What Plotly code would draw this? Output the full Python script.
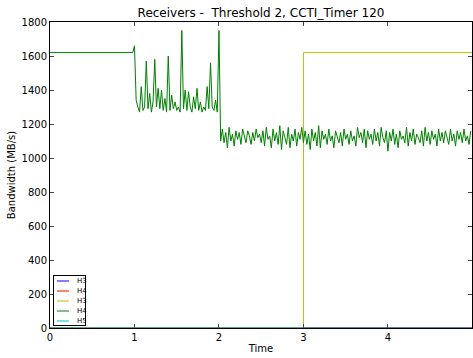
import numpy as np
import plotly.graph_objects as go

# ---- data ----
title = "Receivers -  Threshold 2, CCTI_Timer 120"
series_names = ["H3", "H4", "H3", "H4", "H5"]
series_colors = ["#0000ff", "#ff0000", "#bfbf00", "#008000", "#00bfbf"]

# flat-zero receivers
zero_t = [0.0, 5.0]
zero_v = [0, 0]

# yellow H3: idle until t=3, then full rate
h3b_t = [0.0, 3.0, 3.0, 5.0]
h3b_v = [0, 0, 1620, 1620]

# green H4
h4_flat_t = [0.0, 0.98]
h4_flat_v = [1620, 1620]

h4_seg1_start, h4_step = 1.00, 0.02
h4_seg1_v = [
    1660, 1340, 1300, 1270, 1420, 1280, 1300, 1570, 1290, 1380,
    1270, 1330, 1580, 1300, 1410, 1290, 1400, 1280, 1350, 1270,
    1600, 1280, 1370, 1290, 1330, 1280, 1300, 1270, 1750, 1290,
    1400, 1280, 1390, 1300, 1270, 1360, 1290, 1410, 1280, 1330,
    1270, 1300, 1280, 1420, 1290, 1560, 1300, 1280, 1340, 1270,
    1750,
]
h4_seg2_start = 2.02
h4_seg2_v = [
    1100, 1170, 1090, 1150, 1060, 1180, 1100, 1140, 1070, 1160,
    1110, 1150, 1080, 1170, 1120, 1090, 1160, 1130, 1080, 1150,
    1100, 1170, 1120, 1140, 1090, 1160, 1070, 1180, 1110, 1130,
    1060, 1170, 1100, 1150, 1080, 1190, 1050, 1160, 1120, 1080,
    1180, 1060, 1140, 1100, 1170, 1070, 1150, 1110, 1180, 1090,
    1160, 1080, 1140, 1050, 1170, 1100, 1150, 1070, 1190, 1060,
    1160, 1110, 1140, 1080, 1170, 1100, 1130, 1060, 1160, 1120,
    1090, 1150, 1070, 1170, 1110, 1140, 1080, 1160, 1100, 1130,
    1070, 1180, 1120, 1150, 1090, 1170, 1060, 1160, 1110, 1140,
    1080, 1170, 1100, 1150, 1070, 1180, 1120, 1090, 1160, 1040,
    1150, 1100, 1170, 1080, 1140, 1060, 1160, 1110, 1130, 1090,
    1180, 1070, 1150, 1100, 1170, 1080, 1140, 1120, 1090, 1160,
    1070, 1180, 1100, 1150, 1080, 1160, 1110, 1140, 1070, 1170,
    1100, 1150, 1090, 1160, 1120, 1080, 1170, 1100, 1140, 1070,
    1160, 1110, 1150, 1090, 1170, 1100, 1130, 1080, 1160,
]

x_ticks = [0, 1, 2, 3, 4]
y_ticks = [0, 200, 400, 600, 800, 1000, 1200, 1400, 1600, 1800]

# ---- build green series ----
seg1_t = list(np.round(h4_seg1_start + h4_step * np.arange(len(h4_seg1_v)), 4))
seg2_t = list(np.round(h4_seg2_start + h4_step * np.arange(len(h4_seg2_v)), 4))
h4_t = h4_flat_t + seg1_t + seg2_t
h4_v = h4_flat_v + h4_seg1_v + h4_seg2_v

traces_xy = [
    (zero_t, zero_v),
    (zero_t, zero_v),
    (h3b_t, h3b_v),
    (h4_t, h4_v),
    (zero_t, zero_v),
]

W, H = 473, 358
ML, MR, MT, MB = 50, 1, 22, 30
PW, PH = W - ML - MR, H - MT - MB

fig = go.Figure()
for (tx, vy), name, col in zip(traces_xy, series_names, series_colors):
    fig.add_trace(go.Scatter(x=tx, y=vy, mode="lines", name=name,
                             showlegend=False,
                             line=dict(color=col, width=1)))

# ---- compact legend box (matplotlib style), placed in paper coords ----
def px(x):
    return (x - ML) / PW

def py(y):
    return (H - MB - y) / PH

shapes = []
annotations = [dict(text="", xref="paper", yref="paper",
                    x=px(53), y=py(326), xanchor="left", yanchor="bottom",
                    width=31, height=49, showarrow=False,
                    bordercolor="black", borderwidth=1, borderpad=0,
                    bgcolor="rgba(255,255,255,0)")]
for i, (name, col) in enumerate(zip(series_names, series_colors)):
    ry = 281 + 10 * i
    shapes.append(dict(type="line", xref="paper", yref="paper",
                       x0=px(57), x1=px(69), y0=py(ry), y1=py(ry),
                       line=dict(color=col, width=1), layer="above"))
    annotations.append(dict(text=name, xref="paper", yref="paper",
                            x=px(74.5), y=py(ry), xanchor="left", yanchor="middle",
                            showarrow=False, font=dict(size=7, color="black")))

font = "DejaVu Sans"
fig.update_layout(
    width=W, height=H,
    margin=dict(l=ML, r=MR, t=MT, b=MB),
    paper_bgcolor="white", plot_bgcolor="white",
    font=dict(family=font, size=10, color="black"),
    title=dict(text=title, x=0.5, xref="paper", xanchor="center",
               y=1, yref="paper", yanchor="bottom", pad=dict(b=5),
               font=dict(size=12, family=font)),
    showlegend=False,
    shapes=shapes,
    annotations=annotations,
)
fig.update_xaxes(range=[0, 4.995], tickvals=x_ticks, ticks="inside", ticklen=4,
                 showline=True, linecolor="black", linewidth=1, mirror="ticks",
                 showgrid=False, zeroline=False, tickfont=dict(size=10),
                 title=dict(text="Time", font=dict(size=10), standoff=2))
fig.update_yaxes(range=[0, 1800], tickvals=y_ticks, ticks="inside", ticklen=4,
                 showline=True, linecolor="black", linewidth=1, mirror="ticks",
                 showgrid=False, zeroline=False, tickfont=dict(size=10),
                 title=dict(text="Bandwidth (MB/s)", font=dict(size=10), standoff=4))

fig.write_html("out.html")
